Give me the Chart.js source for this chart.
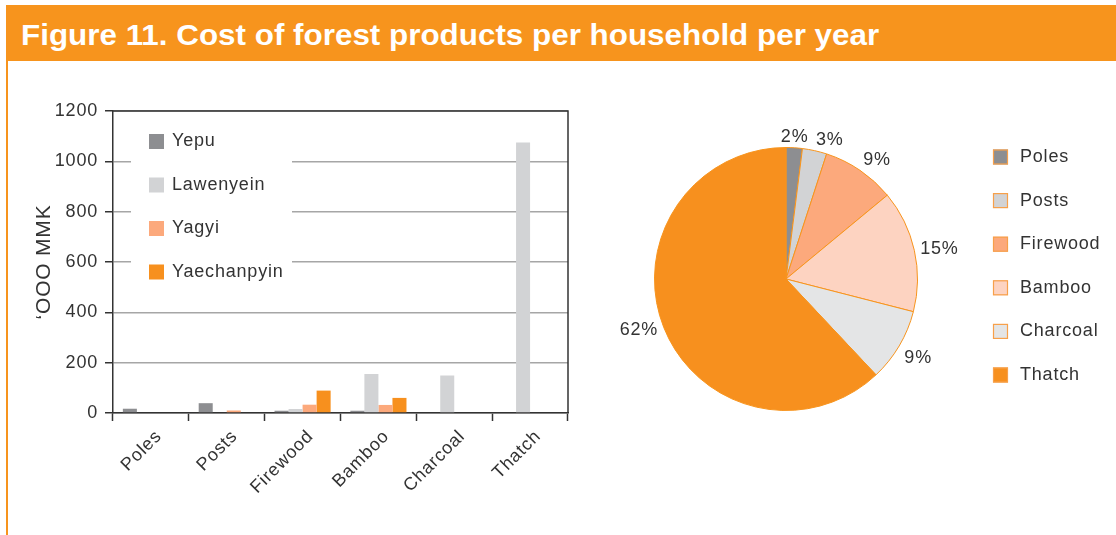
<!DOCTYPE html>
<html>
<head>
<meta charset="utf-8">
<script src="https://cdn.jsdelivr.net/npm/chart.js@4.4.1/dist/chart.umd.min.js"></script>
<style>
  html, body { margin: 0; padding: 0; background: #fff; }
  body { width: 1116px; height: 535px; position: relative; overflow: hidden; font-family: "Liberation Sans", Arial, sans-serif; }
  #banner { position: absolute; left: 7px; top: 5px; right: 0; height: 56px; background: #f7941d; }
  #title { position: absolute; left: 14px; top: 15px; font: bold 30px/30px "Liberation Sans", Arial, sans-serif; color: #fff; white-space: nowrap; transform-origin: 0 0; }
  #edge { position: absolute; left: 6px; top: 5px; width: 2px; bottom: 0; background: #f7941d; }
  #barChart { position: absolute; left: 0; top: 91px; }
  #pieChart { position: absolute; left: 560px; top: 62px; }
</style>
</head>
<body>
<div id="edge"></div>
<div id="banner"><span id="title">Figure 11. Cost of forest products per household per year</span></div>
<canvas id="barChart" width="578" height="444"></canvas>
<canvas id="pieChart" width="556" height="473"></canvas>
<script>
// bar chart data ('000 MMK per household)
const categories = ['Poles', 'Posts', 'Firewood', 'Bamboo', 'Charcoal', 'Thatch'];
const villages = ['Yepu', 'Lawenyein', 'Yagyi', 'Yaechanpyin'];
const yepu = [17, 39, 9, 9, 0, 0];
const lawenyein = [0, 0, 16, 155, 149, 1075];
const yagyi = [0, 10, 33, 32, 0, 0];
const yaechanpyin = [0, 0, 89, 60, 0, 0];
const villageColors = ['#8d8e91', '#d2d3d5', '#fca97c', '#f7901e'];

// pie chart data (% of total cost)
const products = ['Poles', 'Posts', 'Firewood', 'Bamboo', 'Charcoal', 'Thatch'];
const shares = [2, 3, 9, 15, 9, 62];
const productColors = ['#8d8e91', '#d2d3d5', '#fca97c', '#fdd3c1', '#e4e5e6', '#f7901e'];

const FONT = '"Liberation Sans", Arial, sans-serif';
Chart.defaults.font.family = FONT;
Chart.defaults.color = '#333';

// stretch the heading to the width it has in the figure
const title = document.getElementById('title');
title.style.transform = 'scaleX(' + (858 / title.offsetWidth) + ')';

const spacing = {
    id: 'spacing',
    beforeDraw(chart) { chart.ctx.letterSpacing = '0.8px'; }
};

function drawKey(ctx, items, x, y, step, border, gap) {
    ctx.save();
    ctx.font = '18px ' + FONT;
    ctx.textBaseline = 'middle';
    ctx.textAlign = 'left';
    items.forEach((item, i) => {
        const cy = y + i * step;
        ctx.fillStyle = item.color;
        ctx.fillRect(x, cy - 7.5, 15, 15);
        if (border) {
            ctx.strokeStyle = border;
            ctx.lineWidth = 1.2;
            ctx.strokeRect(x + 0.5, cy - 7, 14, 14);
        }
        ctx.fillStyle = '#333';
        ctx.fillText(item.text, x + gap, cy);
    });
    ctx.restore();
}

const barKey = {
    id: 'barKey',
    afterDatasetsDraw(chart) {
        const ctx = chart.ctx;
        const a = chart.chartArea;
        ctx.save();
        ctx.fillStyle = '#fff';
        ctx.fillRect(a.left + 18, a.top + 3, 161, 190);
        ctx.restore();
        const items = chart.data.datasets.map(d => ({ text: d.label, color: d.backgroundColor }));
        drawKey(ctx, items, a.left + 36, a.top + 30.5, 43.5, null, 23);
    },
    afterDraw(chart) {
        const ctx = chart.ctx;
        const a = chart.chartArea;
        ctx.save();
        ctx.strokeStyle = '#333';
        ctx.lineWidth = 1.5;
        ctx.beginPath();
        ctx.moveTo(a.left, a.top);
        ctx.lineTo(a.right, a.top);
        ctx.lineTo(a.right, a.bottom);
        ctx.stroke();
        ctx.restore();
    }
};

new Chart(document.getElementById('barChart'), {
    type: 'bar',
    data: {
        labels: categories,
        datasets: [
            { label: villages[0], data: yepu, backgroundColor: villageColors[0] },
            { label: villages[1], data: lawenyein, backgroundColor: villageColors[1] },
            { label: villages[2], data: yagyi, backgroundColor: villageColors[2] },
            { label: villages[3], data: yaechanpyin, backgroundColor: villageColors[3] }
        ]
    },
    options: {
        responsive: false,
        animation: false,
        devicePixelRatio: 1,
        layout: { padding: { left: 0, top: 20, right: 10, bottom: 0 } },
        datasets: { bar: { barPercentage: 1, categoryPercentage: 0.74 } },
        plugins: { legend: { display: false }, tooltip: { enabled: false } },
        scales: {
            x: {
                grid: { display: true, drawOnChartArea: false, drawTicks: true, tickLength: 8, tickColor: '#333', tickWidth: 1.5, offset: true },
                border: { color: '#333', width: 1.5 },
                ticks: { font: { size: 18 }, color: '#333', minRotation: 45, maxRotation: 45, padding: 5, labelOffset: 8 },
                afterFit(scale) { scale.height = 122; }
            },
            y: {
                min: 0,
                max: 1200,
                ticks: { stepSize: 200, font: { size: 18 }, color: '#333', padding: 7, callback: v => String(v) },
                grid: { color: '#a6a6a6', lineWidth: 1.5, tickLength: 8, tickColor: '#333', tickWidth: 1.5 },
                border: { color: '#333', width: 1.5 },
                title: { display: true, text: '‘OOO MMK', font: { size: 21 }, color: '#333', padding: { top: 32, bottom: 0 } },
                afterFit(scale) { scale.width = 113; }
            }
        }
    },
    plugins: [spacing, barKey]
});

const pieLabels = {
    id: 'pieLabels',
    afterDatasetsDraw(chart) {
        const ctx = chart.ctx;
        ctx.save();
        ctx.font = '18px ' + FONT;
        ctx.fillStyle = '#333';
        chart.getDatasetMeta(0).data.forEach((arc, i) => {
            const p = arc.getProps(['x', 'y', 'startAngle', 'endAngle', 'outerRadius'], true);
            const mid = (p.startAngle + p.endAngle) / 2;
            const c = Math.cos(mid), s = Math.sin(mid);
            const r = p.outerRadius + 6;
            ctx.textAlign = c > 0.15 ? 'left' : (c < -0.15 ? 'right' : 'center');
            ctx.textBaseline = s < -0.5 ? 'alphabetic' : (s > 0.5 ? 'top' : 'middle');
            ctx.fillText(shares[i] + '%', p.x + c * r, p.y + s * r);
        });
        ctx.restore();
        const items = chart.data.labels.map((t, i) => ({ text: t, color: productColors[i] }));
        drawKey(ctx, items, 433, 95, 43.6, '#f7a04a', 27);
    }
};

new Chart(document.getElementById('pieChart'), {
    type: 'pie',
    data: {
        labels: products,
        datasets: [{
            data: shares,
            backgroundColor: productColors,
            borderColor: '#f7941d',
            borderWidth: 1
        }]
    },
    options: {
        responsive: false,
        animation: false,
        devicePixelRatio: 1,
        layout: { padding: { left: 94, top: 85, right: 198, bottom: 124 } },
        plugins: { legend: { display: false }, tooltip: { enabled: false } }
    },
    plugins: [spacing, pieLabels]
});
</script>
</body>
</html>
